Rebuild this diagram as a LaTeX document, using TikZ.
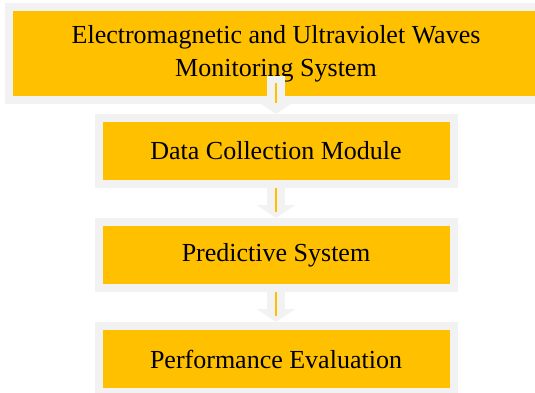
\documentclass[tikz,border=0pt]{standalone}
\usepackage{fontspec}
\setmainfont{Liberation Serif}
\usetikzlibrary{positioning}
\usetikzlibrary{arrows.meta}
\usetikzlibrary{calc}
\definecolor{boxgold}{RGB}{255,192,0}
\definecolor{rimgray}{RGB}{242,242,242}

\begin{document}
\begin{tikzpicture}[
    node distance=30pt,
    stage/.style={rectangle, draw=rimgray, line width=8pt, outer sep=4pt, fill=boxgold, minimum width=355pt, minimum height=66pt, align=center, font=\fontsize{26pt}{33pt}\selectfont},
    blockarrow/.style={draw=rimgray, line width=18pt, -{Triangle[length=13pt, width=38pt]}},
    goldline/.style={draw=boxgold, line width=2pt}
]
\useasboundingbox (0,0) rectangle (535pt,392pt);

% Stages
\node[stage, minimum width=534pt, minimum height=93pt] (emw) at (276pt,338.5pt) {Electromagnetic and Ultraviolet Waves\\Monitoring System};
\node[stage, below=10pt of emw] (dcm) {Data Collection Module};
\node[stage, below=of dcm] (pred) {Predictive System};
\node[stage, below=of pred] (perf) {Performance Evaluation};

% Arrows
\draw[blockarrow] ($(emw.south)+(0,28pt)$) -- (dcm.north);
\draw[goldline] ($(emw.south)+(0,21pt)$) -- ($(dcm.north)+(0,11pt)$);
\draw[blockarrow] ($(dcm.south)+(0,7pt)$) -- (pred.north);
\draw[goldline] (dcm.south) -- ($(pred.north)+(0,6pt)$);
\draw[blockarrow] ($(pred.south)+(0,7pt)$) -- (perf.north);
\draw[goldline] (pred.south) -- ($(perf.north)+(0,6pt)$);

\end{tikzpicture}
\end{document}
